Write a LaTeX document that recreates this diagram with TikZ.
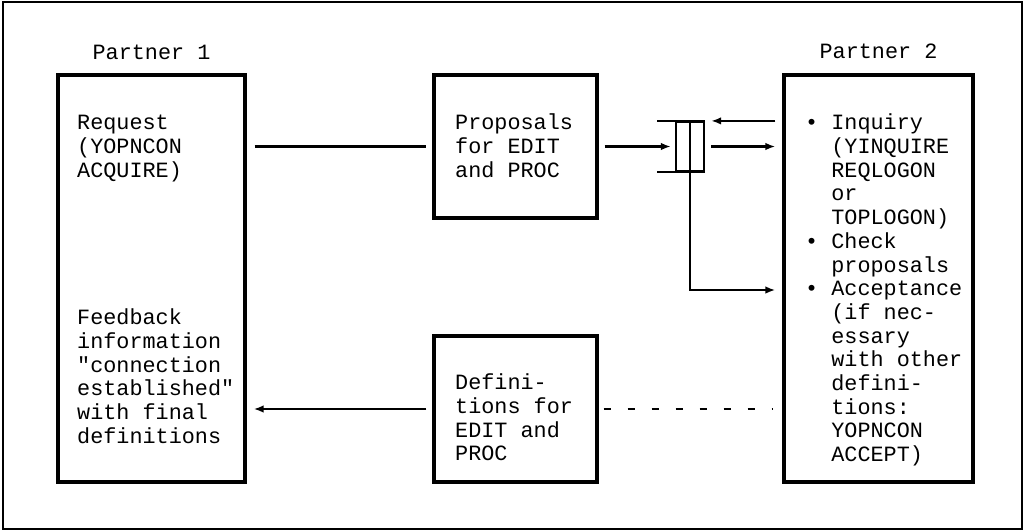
\documentclass[tikz,border=0pt]{standalone}
\usepackage{fontspec}
\setmonofont{Liberation Mono}
\usetikzlibrary{arrows.meta, positioning, calc}

\begin{document}
\begin{tikzpicture}[
    x=1pt, y=-1pt,
    txt/.style={font=\ttfamily\fontsize{21.8}{23.7}\selectfont, inner sep=0pt, align=left, anchor=north west},
    lbl/.style={font=\ttfamily\fontsize{21.8}{23.7}\selectfont, inner sep=0pt},
    box/.style={draw, line width=3.2pt, inner sep=0pt},
    conn/.style={line width=2.2pt},
    arr/.style={-{Latex[length=10pt, width=7.5pt]}, line width=2.2pt}
]
\useasboundingbox (0,0) rectangle (1027,531);
\draw[line width=2.4pt] (3,2) rectangle (1022,529);

% partners and exchanged data
\node[lbl] (t1) at (151.5,52) {Partner 1};
\node[lbl] (t2) at (878.5,51) {Partner 2};
\node[box, minimum width=187pt, minimum height=407pt] (p1) at (151.5,278.5) {};
\node[box, minimum width=163pt, minimum height=143pt] (prop) at (515.5,146.5) {};
\node[box, minimum width=163pt, minimum height=146pt] (defs) at (515.5,409) {};
\node[box, minimum width=189pt, minimum height=407pt] (p2) at (878.5,278.5) {};

\node[txt] (req) at (77,113) {\strut Request\\(YOPNCON\\ACQUIRE)};
\node[txt] (fb) at (77,308) {\strut Feedback\\information\\"connection\\established"\\with final\\definitions};
\node[txt] (proptxt) at (455,113) {\strut Proposals\\for EDIT\\and PROC};
\node[txt] (defstxt) at (455,373) {\strut Defini-\\tions for\\EDIT and\\PROC};
\node[txt] (inq) at (805,113) {\strut\textbullet{} Inquiry\\~~(YINQUIRE\\~~REQLOGON\\~~or\\~~TOPLOGON)\\\textbullet{} Check\\~~proposals\\\textbullet{} Acceptance\\~~(if nec-\\~~essary\\~~with other\\~~defini-\\~~tions:\\~~YOPNCON\\~~ACCEPT)};

% queue
\node[draw, conn, minimum width=28pt, minimum height=49pt, inner sep=0pt] (q) at (690,146.5) {};
\draw[conn] (q.north) -- (q.south);
\foreach \a in {north east, south east} \draw[conn] (q.\a) -- ++(-48,0);

\coordinate (acc) at (p2.west |- 0,290);
\draw[conn, shorten <=8pt, shorten >=6pt] (prop.west -| p1.east) -- (prop.west);
\draw[arr, shorten <=6pt, shorten >=4pt] (prop.east) -- (q.west);
\draw[arr, shorten <=7pt, shorten >=6pt] (q.north east -| p2.west) -- (q.north east);
\draw[arr, shorten <=6pt, shorten >=7pt] (q.east) -- (q.east -| p2.west);
\draw[arr, shorten >=7pt] (q.south) |- (acc);
\draw[conn, dash pattern=on 7pt off 17pt, shorten <=5pt, shorten >=9pt] (defs.east) -- (defs.east -| p2.west);
\draw[arr, shorten <=6pt, shorten >=7pt] (defs.west) -- (defs.west -| p1.east);
\end{tikzpicture}
\end{document}
